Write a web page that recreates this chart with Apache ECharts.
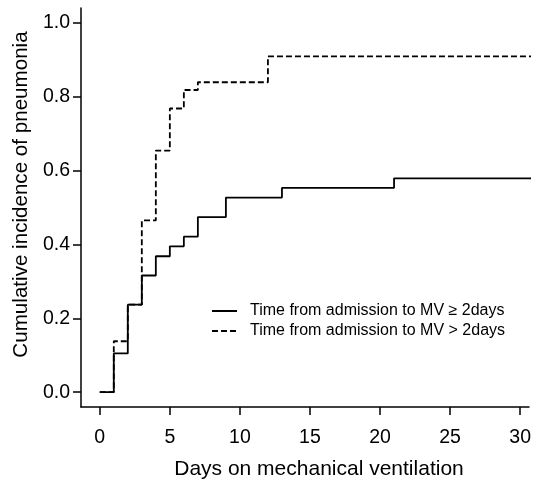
<!DOCTYPE html>
<html>
<head>
<meta charset="utf-8">
<script src="https://cdn.jsdelivr.net/npm/echarts@6/dist/echarts.min.js"></script>
<style>
  html, body { margin: 0; padding: 0; background: #fff; }
  #chart { width: 534px; height: 485px; }
</style>
</head>
<body>
<div id="chart"></div>
<script>
// days at which incidence changes, and the cumulative incidence after each step
const daysEarly = [0, 1, 2, 3, 4, 5, 6, 7, 9, 13, 21, 32];
const incEarly = [0, 0.105, 0.237, 0.316, 0.368, 0.395, 0.421, 0.474, 0.527, 0.553, 0.579, 0.579];

const daysLate = [0, 1, 2, 3, 4, 5, 6, 7, 12, 32];
const incLate = [0, 0.138, 0.237, 0.465, 0.654, 0.768, 0.818, 0.839, 0.909, 0.909];

const xTicks = [0, 5, 10, 15, 20, 25, 30];
const yTicks = [0, 0.2, 0.4, 0.6, 0.8, 1.0];

const nameEarly = 'Time from admission to MV \u2265 2days';
const nameLate = 'Time from admission to MV > 2days';

const font = "'Liberation Sans', Arial, sans-serif";

const chart = echarts.init(document.getElementById('chart'));

const option = {
  backgroundColor: '#fff',
  animation: false,
  grid: {
    left: 81,
    top: 8,
    width: 453,
    height: 400
  },
  legend: {
    orient: 'vertical',
    left: 206,
    top: 298,
    itemWidth: 25,
    itemHeight: 14,
    itemGap: 4,
    data: [nameEarly, nameLate],
    itemStyle: { opacity: 0 },
    textStyle: {
      color: '#000',
      fontFamily: font,
      fontSize: 16,
      padding: [0, 0, 0, 8]
    }
  },
  xAxis: {
    type: 'value',
    min: -1.34,
    max: 30.63,
    name: 'Days on mechanical ventilation',
    nameLocation: 'middle',
    nameGap: 52,
    nameTextStyle: {
      color: '#000',
      fontFamily: font,
      fontSize: 21,
      padding: [0, 0, 0, 28]
    },
    axisLine: { onZero: false, lineStyle: { color: '#000', width: 1.5 } },
    axisTick: { show: true, customValues: xTicks, length: 8, lineStyle: { color: '#000', width: 1.5 } },
    axisLabel: {
      customValues: xTicks,
      color: '#000',
      fontFamily: font,
      fontSize: 19.5,
      margin: 21
    },
    splitLine: { show: false }
  },
  yAxis: {
    type: 'value',
    min: -0.04,
    max: 1.04,
    name: 'Cumulative incidence of pneumonia',
    nameLocation: 'middle',
    nameGap: 47,
    nameTextStyle: {
      color: '#000',
      fontFamily: font,
      fontSize: 20.6,
      padding: [0, 0, 0, 26]
    },
    axisLine: { show: true, onZero: false, lineStyle: { color: '#000', width: 1.5 } },
    axisTick: { show: true, customValues: yTicks, length: 8, lineStyle: { color: '#000', width: 1.5 } },
    axisLabel: {
      customValues: yTicks,
      color: '#000',
      fontFamily: font,
      fontSize: 19.5,
      margin: 11,
      formatter: v => v.toFixed(1)
    },
    splitLine: { show: false }
  },
  series: [
    {
      name: nameEarly,
      type: 'line',
      step: 'end',
      showSymbol: false,
      symbol: 'none',
      data: daysEarly.map((d, i) => [d, incEarly[i]]),
      lineStyle: { color: '#000', width: 1.8, type: 'solid' },
      itemStyle: { color: '#000' }
    },
    {
      name: nameLate,
      type: 'line',
      step: 'end',
      showSymbol: false,
      symbol: 'none',
      data: daysLate.map((d, i) => [d, incLate[i]]),
      lineStyle: { color: '#000', width: 1.8, type: [6, 3] },
      itemStyle: { color: '#000' }
    }
  ]
};

chart.setOption(option);
</script>
</body>
</html>
